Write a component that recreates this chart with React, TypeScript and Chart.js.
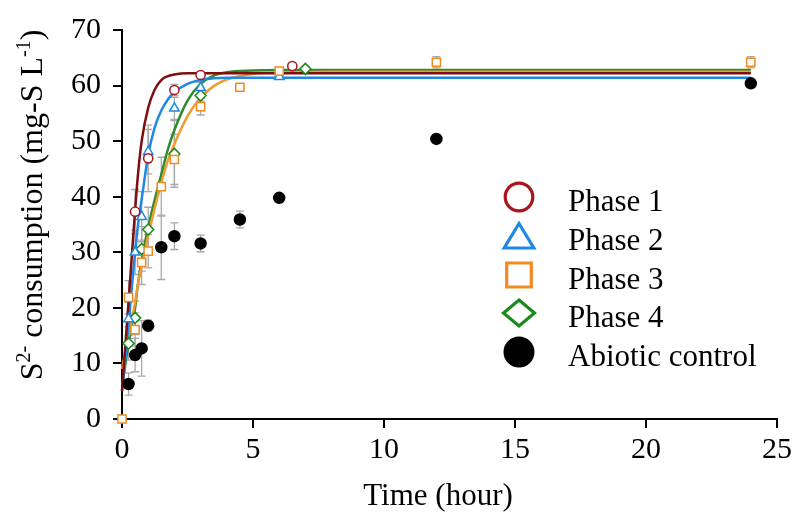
import React, { useEffect, useRef } from 'react';
import { Chart, registerables } from 'chart.js';

Chart.register(...registerables);

// ---------- data ----------
const xTickValues = [0, 5, 10, 15, 20, 25];
const yTickValues = [0, 10, 20, 30, 40, 50, 60, 70];

const legendLabels = ['Phase 1', 'Phase 2', 'Phase 3', 'Phase 4', 'Abiotic control'];

const phase1Time = [0.5, 1, 2, 3, 6.5];
const phase1Value = [37.3, 46.9, 59.2, 61.9, 63.5];
const phase1Err = [4, 6, 1, 0.5, 0.5];

const phase2Time = [0.25, 0.5, 0.75, 1, 2, 3, 6];
const phase2Value = [18.0, 30.0, 36.4, 48.1, 55.9, 59.6, 61.6];
const phase2Err = [3, 4, 4.5, 4, 2, 1, 0.5];

const phase3Time = [0, 0.25, 0.5, 0.75, 1, 1.5, 2, 3, 4.5, 6, 12, 24];
const phase3Value = [0, 21.9, 16.1, 28.2, 30.2, 41.8, 46.7, 56.2, 59.7, 62.6, 64.2, 64.2];
const phase3Err = [0, 3, 3, 4, 3, 5.3, 4.5, 1.5, 0.5, 0.5, 1, 1];

const phase4Time = [0.25, 0.5, 0.75, 1, 2, 3, 7];
const phase4Value = [13.6, 18.2, 30.6, 34.1, 47.7, 58.2, 63.0];
const phase4Err = [3, 3, 4, 4, 6, 1, 0.5];

const abioticTime = [0.25, 0.5, 0.75, 1, 1.5, 2, 3, 4.5, 6, 12, 24];
const abioticValue = [6.3, 11.5, 12.7, 16.8, 30.9, 32.9, 31.6, 35.9, 39.8, 50.4, 60.4];
const abioticErr = [2, 3, 5, 1, 5.8, 2.4, 1.5, 1.5, 0.5, 0.5, 0.5];

// fitted curves
const fitTime = [0, 0.1, 0.25, 0.4, 0.5, 0.6, 0.75, 1, 1.25, 1.5, 1.75, 2, 2.5, 3, 3.5, 4, 5, 6, 8, 24];
const fit1 = [5, 11.5, 21, 31, 37.5, 43.5, 50, 56, 59.3, 61, 61.7, 62, 62.2, 62.2, 62.2, 62.2, 62.2, 62.2, 62.2, 62.2];
const fit2 = [5, 9.5, 17, 25, 30, 34.5, 39.5, 47.5, 52.5, 55.5, 57.5, 58.8, 60.3, 61, 61.3, 61.4, 61.4, 61.4, 61.4, 61.4];
const fit3 = [9, 11.5, 15, 18.5, 21, 24, 27.5, 33, 38, 42.5, 46.5, 49.5, 54.5, 57.8, 59.9, 61.1, 62.1, 62.4, 62.5, 62.5];
const fit4 = [6, 9, 13.5, 17.5, 20, 24, 28.5, 34.5, 39.5, 44, 48.5, 52, 57.3, 60.3, 61.8, 62.4, 62.7, 62.8, 62.8, 62.8];

// ---------- style ----------
const FONT = "'Liberation Serif', 'Times New Roman', serif";
const C1 = '#A8161C';
const C1L = '#7E0E10';
const C2 = '#1E88E5';
const C3 = '#F28A22';
const C4 = '#1A8A1A';
const C5 = '#000000';

const toPts = (xs: number[], ys: number[]) => xs.map((x, i) => ({ x, y: ys[i] }));

const errorMap: Record<string, number[]> = {
  [legendLabels[0]]: phase1Err,
  [legendLabels[1]]: phase2Err,
  [legendLabels[2]]: phase3Err,
  [legendLabels[3]]: phase4Err,
  [legendLabels[4]]: abioticErr,
};

const errorBarPlugin = {
  id: 'errorBars',
  beforeDatasetsDraw(chart: any) {
    const { ctx, scales } = chart;
    const xs = scales.x;
    const ys = scales.y;
    ctx.save();
    ctx.strokeStyle = '#A9A9A9';
    ctx.lineWidth = 1.3;
    chart.data.datasets.forEach((ds: any) => {
      const errs = errorMap[ds.label];
      if (!errs) return;
      ds.data.forEach((p: any, j: number) => {
        const e = errs[j];
        if (!e) return;
        const px = xs.getPixelForValue(p.x);
        const top = ys.getPixelForValue(p.y + e);
        const bot = ys.getPixelForValue(p.y - e);
        ctx.beginPath();
        ctx.moveTo(px, top);
        ctx.lineTo(px, bot);
        ctx.moveTo(px - 4, top);
        ctx.lineTo(px + 4, top);
        ctx.moveTo(px - 4, bot);
        ctx.lineTo(px + 4, bot);
        ctx.stroke();
      });
    });
    ctx.restore();
  },
};

const decorPlugin = {
  id: 'decor',
  afterDraw(chart: any) {
    const { ctx } = chart;
    ctx.save();
    ctx.fillStyle = '#000';

    // x axis title
    ctx.font = `31px ${FONT}`;
    ctx.textAlign = 'center';
    ctx.textBaseline = 'alphabetic';
    ctx.fillText('Time (hour)', 438, 505);

    // y axis title with superscripts
    const size = 32;
    const sup = 20;
    const segs: [string, boolean][] = [
      ['S', false],
      ['2-', true],
      [' consumption (mg-S L', false],
      ['-1', true],
      [')', false],
    ];
    let total = 0;
    const widths = segs.map(([t, s]) => {
      ctx.font = `${s ? sup : size}px ${FONT}`;
      const w = ctx.measureText(t).width;
      total += w;
      return w;
    });
    ctx.translate(42, 205);
    ctx.rotate(-Math.PI / 2);
    ctx.textAlign = 'left';
    let cx = -total / 2;
    segs.forEach(([t, s], i) => {
      ctx.font = `${s ? sup : size}px ${FONT}`;
      ctx.fillText(t, cx, s ? -12 : 0);
      cx += widths[i];
    });
    ctx.setTransform(1, 0, 0, 1, 0, 0);

    // legend
    const mx = 519;
    const rows = [197, 236, 275, 313, 352];
    ctx.lineWidth = 3.2;
    // circle
    ctx.strokeStyle = C1;
    ctx.fillStyle = '#fff';
    ctx.beginPath();
    ctx.arc(mx, rows[0], 13.8, 0, Math.PI * 2);
    ctx.fill();
    ctx.stroke();
    // triangle
    ctx.strokeStyle = C2;
    ctx.beginPath();
    ctx.moveTo(mx, rows[1] - 12.5);
    ctx.lineTo(mx - 14.8, rows[1] + 12);
    ctx.lineTo(mx + 14.8, rows[1] + 12);
    ctx.closePath();
    ctx.fill();
    ctx.stroke();
    // square
    ctx.strokeStyle = C3;
    ctx.beginPath();
    ctx.rect(mx - 12.3, rows[2] - 12, 24.6, 24);
    ctx.fill();
    ctx.stroke();
    // diamond
    ctx.strokeStyle = C4;
    ctx.beginPath();
    ctx.moveTo(mx, rows[3] - 13);
    ctx.lineTo(mx + 15.5, rows[3]);
    ctx.lineTo(mx, rows[3] + 13);
    ctx.lineTo(mx - 15.5, rows[3]);
    ctx.closePath();
    ctx.fill();
    ctx.stroke();
    // filled circle
    ctx.fillStyle = C5;
    ctx.beginPath();
    ctx.arc(mx, rows[4], 15.5, 0, Math.PI * 2);
    ctx.fill();

    ctx.fillStyle = '#000';
    ctx.font = `31px ${FONT}`;
    ctx.textAlign = 'left';
    ctx.textBaseline = 'alphabetic';
    legendLabels.forEach((l, i) => ctx.fillText(l, 568, rows[i] + 14));

    ctx.restore();
  },
};

const lineDs = (label: string, ys: number[], color: string) => ({
  label,
  data: toPts(fitTime, ys),
  showLine: true,
  borderColor: color,
  backgroundColor: color,
  borderWidth: 2.5,
  pointRadius: 0,
  cubicInterpolationMode: 'monotone' as const,
  fill: false,
  order: 10,
  clip: false,
});

const markerDs = (
  label: string,
  xs: number[],
  ys: number[],
  style: string,
  radius: number,
  color: string,
  fillColor: string,
  order: number
) => ({
  label,
  data: toPts(xs, ys),
  showLine: false,
  pointStyle: style,
  pointRadius: radius,
  pointBorderWidth: 1.5,
  pointBorderColor: color,
  pointBackgroundColor: fillColor,
  borderColor: color,
  backgroundColor: fillColor,
  order,
  clip: false,
});

export default function App() {
  const ref = useRef<HTMLCanvasElement | null>(null);

  useEffect(() => {
    document.body.style.margin = '0';
    const canvas = ref.current;
    if (!canvas) return;
    const tickFont = { family: FONT, size: 30 };
    const chart = new Chart(canvas, {
      type: 'scatter',
      data: {
        datasets: [
          lineDs('fit1', fit1, C1L),
          lineDs('fit2', fit2, C2),
          lineDs('fit3', fit3, '#F39A30'),
          lineDs('fit4', fit4, '#2A8C2A'),
          markerDs(legendLabels[2], phase3Time, phase3Value, 'rect', 5.8, C3, '#fff', 0),
          markerDs(legendLabels[0], phase1Time, phase1Value, 'circle', 4.6, C1, '#fff', 1),
          markerDs(legendLabels[1], phase2Time, phase2Value, 'triangle', 5.5, C2, '#fff', 2),
          markerDs(legendLabels[3], phase4Time, phase4Value, 'rectRot', 5.5, C4, '#fff', 3),
          markerDs(legendLabels[4], abioticTime, abioticValue, 'circle', 5.5, C5, C5, 4),
        ] as any,
      },
      options: {
        responsive: false,
        animation: false,
        devicePixelRatio: 1,
        events: [],
        layout: { padding: { top: 23, right: 25, left: 0, bottom: 0 } },
        plugins: { legend: { display: false }, tooltip: { enabled: false } },
        scales: {
          x: {
            type: 'linear',
            min: 0,
            max: 25,
            afterBuildTicks: (s: any) => {
              s.ticks = xTickValues.map((v) => ({ value: v }));
            },
            ticks: { color: '#000', font: tickFont, padding: 4, maxRotation: 0 },
            grid: { display: true, drawOnChartArea: false, drawTicks: true, tickLength: 9, color: '#000', lineWidth: 2 },
            border: { display: true, color: '#000', width: 2 },
            afterFit: (s: any) => {
              s.height = 105;
            },
          },
          y: {
            type: 'linear',
            min: 0,
            max: 70,
            afterBuildTicks: (s: any) => {
              s.ticks = yTickValues.map((v) => ({ value: v }));
            },
            ticks: { color: '#000', font: tickFont, padding: 12 },
            grid: { display: true, drawOnChartArea: false, drawTicks: true, tickLength: 9, color: '#000', lineWidth: 2 },
            border: { display: true, color: '#000', width: 2 },
            afterFit: (s: any) => {
              s.width = 122;
            },
          },
        },
      } as any,
      plugins: [errorBarPlugin, decorPlugin],
    });
    return () => chart.destroy();
  }, []);

  return (
    <canvas ref={ref} width={802} height={524} style={{ display: 'block' }} />
  );
}
